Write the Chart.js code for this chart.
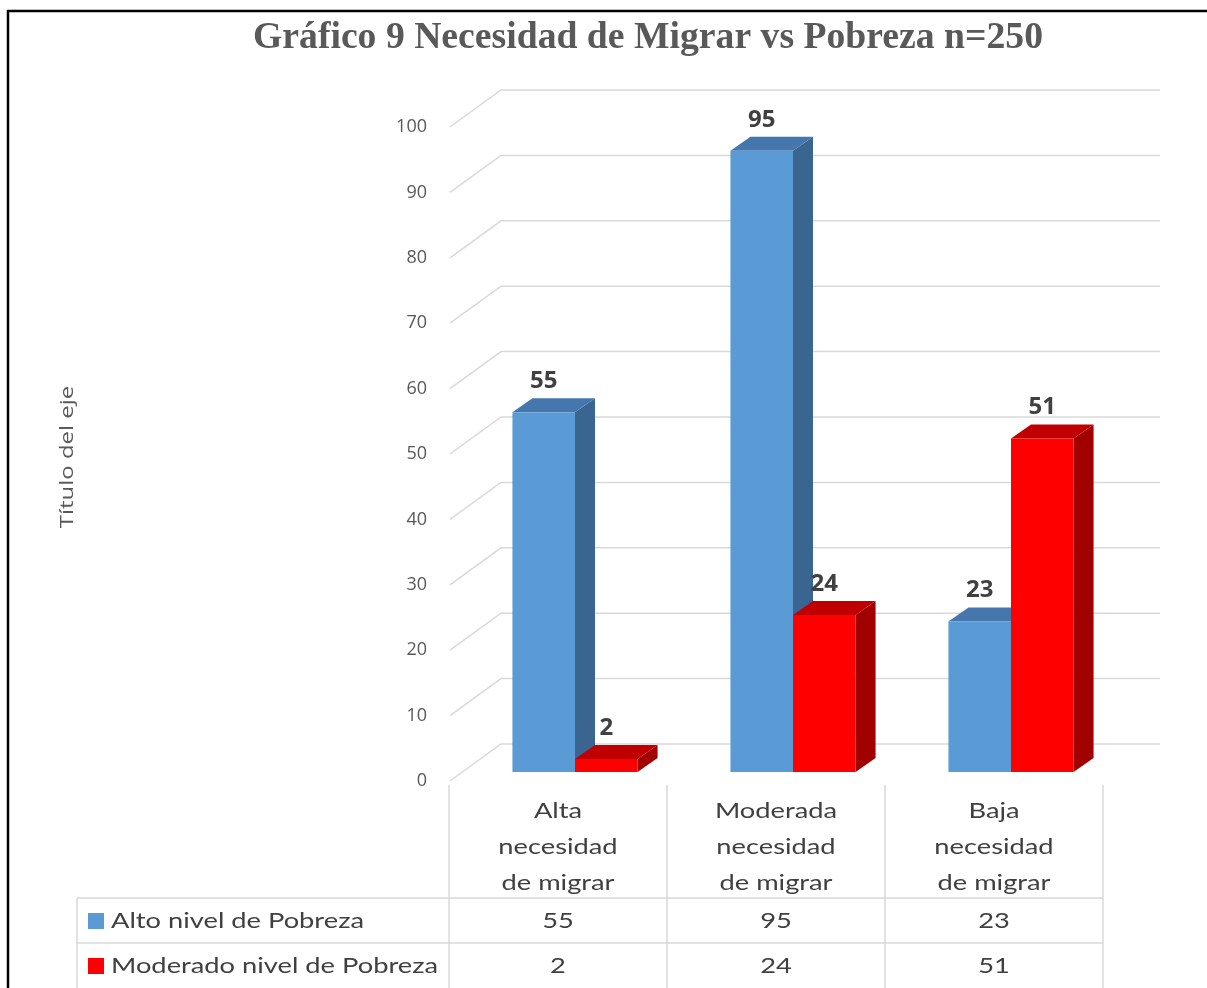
<!DOCTYPE html>
<html>
<head>
<meta charset="utf-8">
<script src="https://cdn.jsdelivr.net/npm/chart.js@4.4.1/dist/chart.umd.min.js"></script>
<style>
  html, body { margin: 0; padding: 0; background: #ffffff; }
  #wrap { position: relative; width: 1207px; height: 988px; }
</style>
</head>
<body>
<div id="wrap"><canvas id="c" width="1207" height="988"></canvas></div>
<script>
// ---- data ----
const categories = [
  ["Alta", "necesidad", "de migrar"],
  ["Moderada", "necesidad", "de migrar"],
  ["Baja", "necesidad", "de migrar"]
];
const seriesNames = ["Alto nivel de Pobreza", "Moderado nivel de Pobreza"];
const altoValues = [55, 95, 23];
const moderadoValues = [2, 24, 51];
const yMin = 0, yMax = 100, yStep = 10;
const chartTitle = "Gráfico 9 Necesidad de Migrar vs Pobreza n=250";
const axisTitle = "Título del eje";

// ---- styles ----
const frontColors = ["#5B9BD5", "#FF0000"];
const topColors = ["#4677AC", "#C00000"];
const sideColors = ["#3A6591", "#A00000"];
const BAR_DX = 17, BAR_DY = -9;      // bar plane offset from front wall
const DEPTH_X = 20, DEPTH_Y = 14;    // bar depth
const WALL_X = 52, WALL_Y = 37;      // wall depth
const GRID_END = 1160;
const textGray = "#595959";
const darkText = "#404040";
const gridColor = "#D9D9D9";
const tableFont = "22px Lato, 'Open Sans', sans-serif";
const STRETCH = 1.24;

function stretchedText(ctx, text, x, y, align, sx) {
  ctx.save();
  ctx.translate(x, y);
  ctx.scale(sx, 1);
  ctx.textAlign = align;
  ctx.fillText(text, 0, 0);
  ctx.restore();
}

const chartDecor = {
  id: 'chartDecor',
  beforeDraw(chart) {
    const ctx = chart.ctx;
    const y = chart.scales.y, x = chart.scales.x;
    const area = chart.chartArea;
    ctx.save();
    ctx.fillStyle = "#fff";
    ctx.fillRect(0, 0, chart.width, chart.height);
    // frame
    ctx.strokeStyle = "#000";
    ctx.lineWidth = 2.5;
    ctx.beginPath();
    ctx.moveTo(8, 988); ctx.lineTo(8, 11); ctx.lineTo(1207, 11);
    ctx.stroke();
    // title
    ctx.fillStyle = textGray;
    ctx.font = "bold 38px 'Liberation Serif', 'DejaVu Serif', serif";
    ctx.textAlign = "center"; ctx.textBaseline = "middle";
    ctx.fillText(chartTitle, 648, 38, 790);
    // axis title
    ctx.save();
    ctx.translate(68, 457);
    ctx.rotate(-Math.PI / 2);
    ctx.font = "19px 'Open Sans', sans-serif";
    stretchedText(ctx, axisTitle, 0, 0, "center", 1.26);
    ctx.restore();
    // grid
    ctx.strokeStyle = gridColor;
    ctx.lineWidth = 1.5;
    ctx.font = "18px 'Open Sans', sans-serif";
    ctx.textAlign = "right";
    for (let v = yMin; v <= yMax; v += yStep) {
      const py = y.getPixelForValue(v);
      ctx.beginPath();
      ctx.moveTo(area.left + 1, py);
      ctx.lineTo(area.left + WALL_X, py - WALL_Y);
      ctx.lineTo(GRID_END, py - WALL_Y);
      ctx.stroke();
      ctx.fillStyle = textGray;
      ctx.fillText(String(v), 427, py);
    }
    // table
    const colW = (area.right - area.left) / categories.length;
    const tTop = area.bottom + 4;
    const row1 = 898, row2 = 943, tBottom = 988;
    ctx.strokeStyle = "#D9D9D9";
    ctx.lineWidth = 1.5;
    ctx.beginPath();
    for (let i = 0; i <= categories.length; i++) {
      const px = Math.round(area.left + i * colW);
      ctx.moveTo(px, tTop); ctx.lineTo(px, tBottom);
    }
    ctx.moveTo(77, row1); ctx.lineTo(area.right, row1);
    ctx.moveTo(77, row2); ctx.lineTo(area.right, row2);
    ctx.moveTo(77, row1); ctx.lineTo(77, tBottom);
    ctx.stroke();
    ctx.font = tableFont;
    ctx.fillStyle = darkText;
    categories.forEach((lines, i) => {
      const cx = x.getPixelForValue(i);
      lines.forEach((ln, j) => stretchedText(ctx, ln, cx, 811 + j * 36, "center", STRETCH));
      stretchedText(ctx, String(altoValues[i]), cx, 921, "center", STRETCH);
      stretchedText(ctx, String(moderadoValues[i]), cx, 966, "center", STRETCH);
    });
    // legend keys
    [921, 966].forEach((ry, k) => {
      ctx.fillStyle = frontColors[k];
      ctx.fillRect(88, ry - 8, 16, 16);
      ctx.fillStyle = darkText;
      stretchedText(ctx, seriesNames[k], 111, ry, "left", STRETCH);
    });
    ctx.restore();
  },
  beforeDatasetsDraw(chart) {
    const ctx = chart.ctx;
    ctx.save();
    ctx.translate(BAR_DX, BAR_DY);
    // 3D faces for all datasets, in index order, before fronts
    chart.data.datasets.forEach((ds, di) => {
      const meta = chart.getDatasetMeta(di);
      meta.data.forEach(el => {
        const p = el.getProps(['x', 'y', 'base', 'width'], true);
        const l = p.x - p.width / 2, r = p.x + p.width / 2;
        const t = p.y, b = p.base;
        ctx.fillStyle = sideColors[di];
        ctx.beginPath();
        ctx.moveTo(r, t); ctx.lineTo(r + DEPTH_X, t - DEPTH_Y);
        ctx.lineTo(r + DEPTH_X, b - DEPTH_Y); ctx.lineTo(r, b);
        ctx.closePath(); ctx.fill();
        ctx.fillStyle = topColors[di];
        ctx.beginPath();
        ctx.moveTo(l, t); ctx.lineTo(l + DEPTH_X, t - DEPTH_Y);
        ctx.lineTo(r + DEPTH_X, t - DEPTH_Y); ctx.lineTo(r, t);
        ctx.closePath(); ctx.fill();
      });
    });
  },
  afterDatasetsDraw(chart) {
    const ctx = chart.ctx;
    ctx.restore();
    ctx.save();
    ctx.font = "bold 24px 'Open Sans', sans-serif";
    ctx.fillStyle = darkText;
    ctx.textAlign = "center"; ctx.textBaseline = "middle";
    chart.data.datasets.forEach((ds, di) => {
      const meta = chart.getDatasetMeta(di);
      meta.data.forEach((el, i) => {
        ctx.fillText(String(ds.data[i]), el.x + BAR_DX, el.y + BAR_DY - 31);
      });
    });
    ctx.restore();
  }
};

new Chart(document.getElementById('c'), {
  type: 'bar',
  data: {
    labels: categories,
    datasets: [
      { label: seriesNames[0], data: altoValues, backgroundColor: frontColors[0], clip: false },
      { label: seriesNames[1], data: moderadoValues, backgroundColor: frontColors[1], clip: false }
    ]
  },
  options: {
    responsive: false,
    animation: false,
    devicePixelRatio: 1,
    layout: { padding: { left: 449, right: 104, top: 127, bottom: 207 } },
    datasets: { bar: { categoryPercentage: 0.574, barPercentage: 1.0, borderWidth: 0 } },
    scales: {
      x: { display: false },
      y: { display: false, min: yMin, max: yMax }
    },
    plugins: { legend: { display: false }, title: { display: false }, tooltip: { enabled: false } }
  },
  plugins: [chartDecor]
});
</script>
</body>
</html>
